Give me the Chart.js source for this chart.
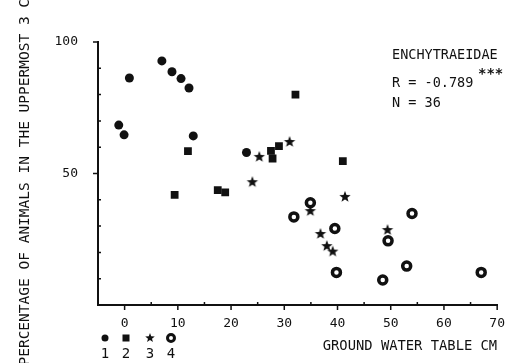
<!DOCTYPE html>
<html>
<head>
<meta charset="utf-8">
<script src="https://cdn.jsdelivr.net/npm/chart.js@4.4.1/dist/chart.umd.min.js"></script>
<style>
  html, body { margin: 0; padding: 0; background: #fff; }
  #wrap { width: 516px; height: 363px; }
</style>
</head>
<body>
<div id="wrap"><canvas id="chart" width="516" height="363"></canvas></div>
<script>
// ground water table (cm) vs. % of animals in the uppermost 3 cm, four site groups
const group1X = [-1.1, -0.1, 0.9, 7.0, 8.9, 10.6, 12.1, 12.9, 22.9];
const group1Y = [68.4, 64.7, 86.3, 92.8, 88.7, 86.1, 82.5, 64.3, 58.0];

const group2X = [9.4, 11.9, 17.5, 18.9, 27.5, 27.8, 29.0, 32.1, 41.0];
const group2Y = [41.9, 58.5, 43.7, 42.8, 58.6, 55.7, 60.4, 80.0, 54.7];

const group3X = [24.0, 25.3, 31.0, 34.9, 36.8, 38.0, 39.1, 41.4, 49.4];
const group3Y = [46.7, 56.3, 62.0, 35.7, 27.0, 22.4, 20.3, 41.1, 28.5];

const group4X = [31.8, 34.9, 39.5, 39.8, 48.5, 49.5, 53.0, 54.0, 67.0];
const group4Y = [33.5, 38.9, 29.1, 12.4, 9.5, 24.4, 14.8, 34.8, 12.4];

const xTicks = [0, 10, 20, 30, 40, 50, 60, 70];
const xMinorTicks = [5, 15, 25, 35, 45, 55, 65];
const yTicks = [50, 100];
const yMinorTicks = [10, 20, 30, 40, 60, 70, 80, 90];

const keyLabels = ['1', '2', '3', '4'];
const noteLines = ['ENCHYTRAEIDAE', 'R = -0.789', 'N = 36'];
const noteStars = '***';

const ink = '#111';
const fontName = "'DejaVu Sans Mono', monospace";

function toPoints(xs, ys) {
    return xs.map((x, i) => ({ x: x, y: ys[i] }));
}

// filled five-point star used as a point style
function makeStar(r) {
    const size = Math.ceil(r * 2 + 2);
    const c = document.createElement('canvas');
    c.width = size;
    c.height = size;
    const g = c.getContext('2d');
    g.fillStyle = ink;
    g.beginPath();
    for (let i = 0; i < 10; i++) {
        const rad = i % 2 === 0 ? r : r * 0.42;
        const a = -Math.PI / 2 + i * Math.PI / 5;
        g.lineTo(size / 2 + rad * Math.cos(a), size / 2 + rad * Math.sin(a));
    }
    g.closePath();
    g.fill();
    return c;
}
const starBig = makeStar(6);
const starSmall = makeStar(5);

// tick marks: major ones outside, minor ones inside
const tickMarks = {
    id: 'tickMarks',
    afterDraw(chart) {
        const ctx = chart.ctx;
        const xs = chart.scales.x;
        const ys = chart.scales.y;
        const base = ys.getPixelForValue(0);
        const left = xs.getPixelForValue(-5);
        ctx.save();
        ctx.strokeStyle = ink;
        ctx.lineWidth = 1.5;
        ctx.beginPath();
        xTicks.forEach(v => {
            const px = xs.getPixelForValue(v);
            ctx.moveTo(px, base);
            ctx.lineTo(px, base + 5);
        });
        xMinorTicks.forEach(v => {
            const px = xs.getPixelForValue(v);
            ctx.moveTo(px, base);
            ctx.lineTo(px, base - 3);
        });
        yTicks.forEach(v => {
            const py = ys.getPixelForValue(v);
            ctx.moveTo(left, py);
            ctx.lineTo(left - 5, py);
        });
        yMinorTicks.forEach(v => {
            const py = ys.getPixelForValue(v);
            ctx.moveTo(left, py);
            ctx.lineTo(left + 3, py);
        });
        ctx.stroke();
        ctx.restore();
    }
};

// statistics text and the symbol key under the axis
const notes = {
    id: 'notes',
    afterDraw(chart) {
        const ctx = chart.ctx;
        ctx.save();
        ctx.fillStyle = ink;
        ctx.textBaseline = 'middle';
        ctx.font = '13.5px ' + fontName;
        ctx.fillText(noteLines[0], 392, 55);
        ctx.fillText(noteLines[1], 392, 83);
        ctx.fillText(noteLines[2], 392, 103);
        ctx.font = 'bold 14px ' + fontName;
        ctx.fillText(noteStars, 478, 74);

        const keyX = [105, 126, 150, 171];
        const keyY = 338;
        ctx.beginPath();
        ctx.arc(keyX[0], keyY, 3.5, 0, Math.PI * 2);
        ctx.fill();
        ctx.fillRect(keyX[1] - 3.5, keyY - 3.5, 7, 7);
        ctx.drawImage(starSmall, keyX[2] - starSmall.width / 2, keyY - starSmall.height / 2);
        ctx.beginPath();
        ctx.lineWidth = 3;
        ctx.strokeStyle = ink;
        ctx.arc(keyX[3], keyY, 3.5, 0, Math.PI * 2);
        ctx.stroke();

        ctx.font = '14px ' + fontName;
        ctx.textAlign = 'center';
        keyLabels.forEach((t, i) => ctx.fillText(t, keyX[i], 354));
        ctx.restore();
    }
};

new Chart(document.getElementById('chart'), {
    type: 'scatter',
    data: {
        datasets: [
            {
                label: keyLabels[0],
                data: toPoints(group1X, group1Y),
                pointStyle: 'circle',
                pointRadius: 4.5,
                backgroundColor: ink,
                borderWidth: 0
            },
            {
                label: keyLabels[1],
                data: toPoints(group2X, group2Y),
                pointStyle: 'rect',
                pointRadius: 5.5,
                backgroundColor: ink,
                borderWidth: 0
            },
            {
                label: keyLabels[2],
                data: toPoints(group3X, group3Y),
                pointStyle: starBig,
                pointRadius: 6,
                backgroundColor: ink,
                borderWidth: 0
            },
            {
                label: keyLabels[3],
                data: toPoints(group4X, group4Y),
                pointStyle: 'circle',
                pointRadius: 4,
                backgroundColor: '#fff',
                borderColor: ink,
                borderWidth: 3.5
            }
        ]
    },
    options: {
        responsive: false,
        animation: false,
        events: [],
        layout: { padding: { left: 0, right: 18, top: 42, bottom: 0 } },
        plugins: {
            legend: { display: false },
            tooltip: { enabled: false }
        },
        scales: {
            x: {
                type: 'linear',
                min: -5,
                max: 70,
                grid: { display: false, drawTicks: false },
                border: { display: true, color: ink, width: 2 },
                ticks: {
                    color: ink,
                    font: { family: fontName, size: 13 },
                    padding: 11,
                    maxRotation: 0,
                    autoSkip: false
                },
                afterBuildTicks: s => { s.ticks = xTicks.map(v => ({ value: v })); },
                afterFit: s => { s.height = 58; },
                title: {
                    display: true,
                    text: 'GROUND WATER TABLE CM',
                    align: 'end',
                    color: ink,
                    font: { family: fontName, size: 13.8 },
                    padding: { top: 0, bottom: 8 }
                }
            },
            y: {
                type: 'linear',
                min: 0,
                max: 100,
                grid: { display: false, drawTicks: false },
                border: { display: true, color: ink, width: 2 },
                ticks: {
                    color: ink,
                    font: { family: fontName, size: 13 },
                    padding: 20
                },
                afterBuildTicks: s => { s.ticks = yTicks.map(v => ({ value: v })); },
                afterFit: s => { s.width = 98; },
                title: {
                    display: true,
                    // trailing space nudges the centred text a little lower, as in the original
                    text: 'PERCENTAGE OF ANIMALS IN THE UPPERMOST 3 CM ',
                    color: ink,
                    font: { family: fontName, size: 14.5 },
                    padding: { top: 17, bottom: 0 }
                }
            }
        }
    },
    plugins: [tickMarks, notes]
});
</script>
</body>
</html>
